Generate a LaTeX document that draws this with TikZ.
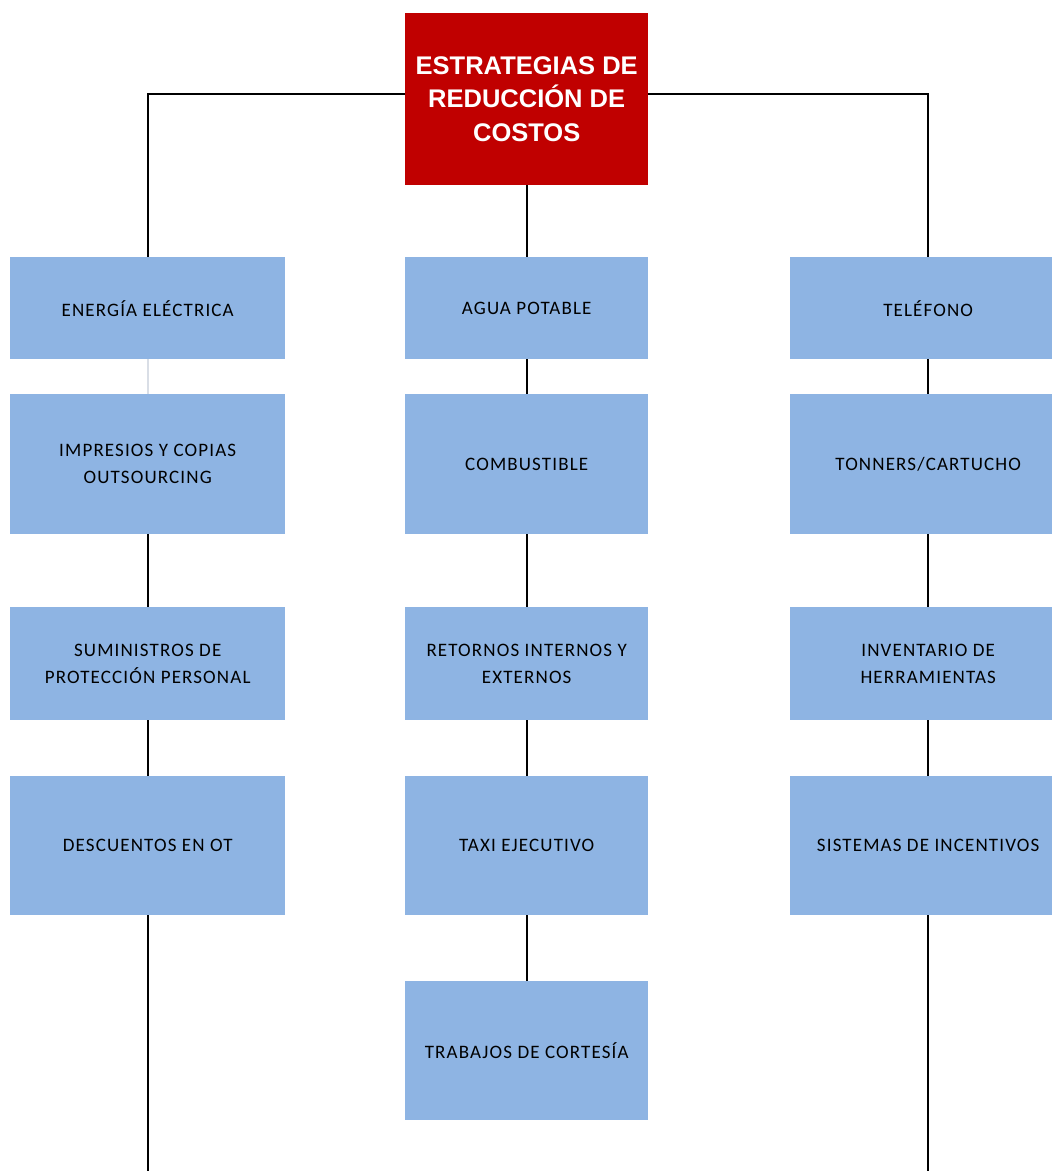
\documentclass[tikz,border=0pt]{standalone}
\usepackage{fontspec}
\setmainfont{Carlito}
\newfontfamily\boxfont[LetterSpace=6]{Carlito}
\newfontfamily\titlefont{Liberation Sans}
\definecolor{boxblue}{RGB}{142,180,227}
\definecolor{titlered}{RGB}{192,0,0}
\definecolor{lightline}{RGB}{217,222,230}
\begin{document}
\begin{tikzpicture}[x=1pt,y=-1pt,
  boxnode/.style={fill=boxblue, draw=none, anchor=north west, inner sep=0pt,
    align=center, font=\boxfont\fontsize{19}{27}\selectfont, text=black},
  titlenode/.style={fill=titlered, draw=none, anchor=north west, inner sep=0pt,
    align=center, font=\titlefont\bfseries\fontsize{25.5}{33.5}\selectfont, text=white},
  conn/.style={draw=black, line width=2pt},
  lightconn/.style={draw=lightline, line width=2pt}]
\useasboundingbox (0,0) rectangle (1052,1171);
\clip (0,0) rectangle (1052,1171);
\fill[white] (0,0) rectangle (1052,1171);
% title
\node[titlenode, minimum width=243pt, minimum height=172pt] (title) at (405,13) {ESTRATEGIAS DE\\REDUCCIÓN DE\\COSTOS};
% left column
\node[boxnode, minimum width=275pt, minimum height=102pt] (l1) at (10,257) {ENERGÍA ELÉCTRICA};
\node[boxnode, minimum width=275pt, minimum height=140pt] (l2) at (10,394) {IMPRESIOS Y COPIAS\\OUTSOURCING};
\node[boxnode, minimum width=275pt, minimum height=113pt] (l3) at (10,607) {SUMINISTROS DE\\PROTECCIÓN PERSONAL};
\node[boxnode, minimum width=275pt, minimum height=139pt] (l4) at (10,776) {DESCUENTOS EN OT};
% middle column
\node[boxnode, minimum width=243pt, minimum height=102pt] (m1) at (405,257) {AGUA POTABLE};
\node[boxnode, minimum width=243pt, minimum height=140pt] (m2) at (405,394) {COMBUSTIBLE};
\node[boxnode, minimum width=243pt, minimum height=113pt] (m3) at (405,607) {RETORNOS INTERNOS Y\\EXTERNOS};
\node[boxnode, minimum width=243pt, minimum height=139pt] (m4) at (405,776) {TAXI EJECUTIVO};
\node[boxnode, minimum width=243pt, minimum height=139pt] (m5) at (405,981) {TRABAJOS DE CORTESÍA};
% right column
\node[boxnode, minimum width=276pt, minimum height=102pt] (r1) at (790,257) {TELÉFONO};
\node[boxnode, minimum width=276pt, minimum height=140pt] (r2) at (790,394) {TONNERS/CARTUCHO};
\node[boxnode, minimum width=276pt, minimum height=113pt] (r3) at (790,607) {INVENTARIO DE\\HERRAMIENTAS};
\node[boxnode, minimum width=276pt, minimum height=139pt] (r4) at (790,776) {SISTEMAS DE INCENTIVOS};
% free ends
\coordinate (lend) at (l4.south |- 0,1171);
\coordinate (rend) at (r4.south |- 0,1171);
% connectors
\draw[conn] ([yshift=5pt]title.west) -| (l1.north);
\draw[conn] ([yshift=5pt]title.east) -| (r1.north);
\draw[conn] (title.south) -- (m1.north);
\draw[lightconn] (l1.south) -- (l2.north);
\draw[conn] (l2.south) -- (l3.north);
\draw[conn] (l3.south) -- (l4.north);
\draw[conn] (l4.south) -- (lend);
\draw[conn] (m1.south) -- (m2.north);
\draw[conn] (m2.south) -- (m3.north);
\draw[conn] (m3.south) -- (m4.north);
\draw[conn] (m4.south) -- (m5.north);
\draw[conn] (r1.south) -- (r2.north);
\draw[conn] (r2.south) -- (r3.north);
\draw[conn] (r3.south) -- (r4.north);
\draw[conn] (r4.south) -- (rend);
\end{tikzpicture}
\end{document}
